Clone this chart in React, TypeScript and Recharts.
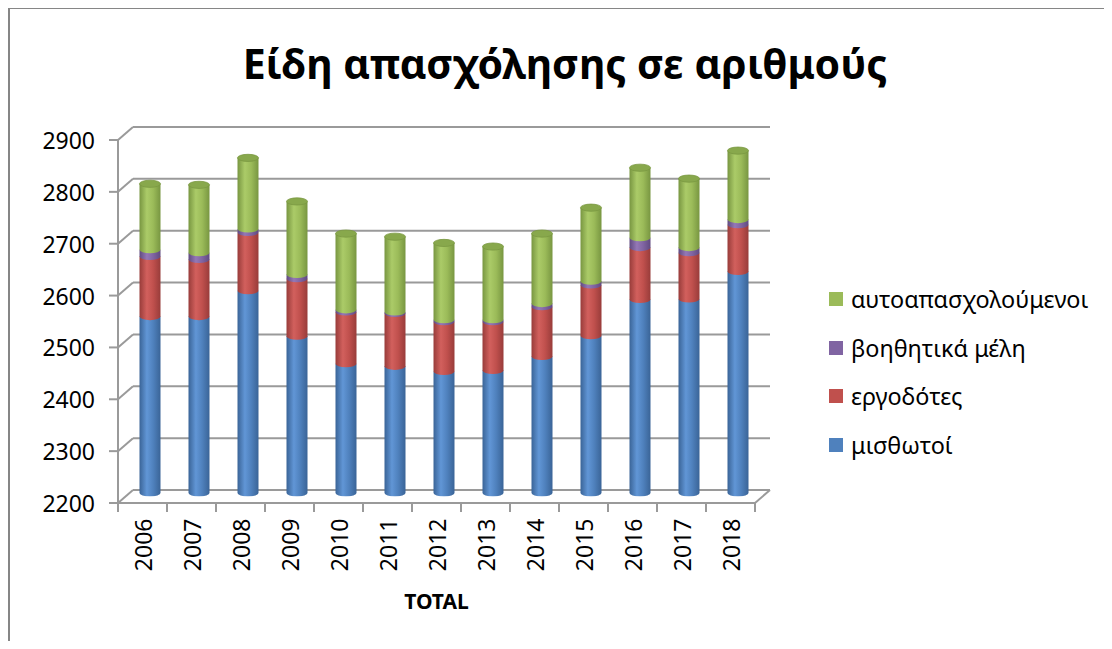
import React from 'react';
import { BarChart, Bar, XAxis, YAxis, CartesianGrid, Legend } from 'recharts';

const years = ['2006', '2007', '2008', '2009', '2010', '2011', '2012', '2013', '2014', '2015', '2016', '2017', '2018'];
const misthotoi = [2547, 2547, 2597, 2509, 2456, 2451, 2441, 2443, 2470, 2510, 2580, 2581, 2634];
const ergodotes = [116, 110, 112, 111, 100, 102, 96, 94, 96, 98, 100, 89, 90];
const voithitika = [13, 13, 7, 8, 4, 3, 4, 4, 6, 7, 19, 10, 10];
const autoapasx = [127, 131, 137, 141, 147, 145, 148, 141, 135, 142, 135, 133, 133];
const yTicks = [2200, 2300, 2400, 2500, 2600, 2700, 2800, 2900];

const seriesNames = ['μισθωτοί', 'εργοδότες', 'βοηθητικά μέλη', 'αυτοαπασχολούμενοι'];

const data = years.map((year, i) => ({
  year,
  misthotoi: misthotoi[i],
  ergodotes: ergodotes[i],
  voithitika: voithitika[i],
  autoapasx: autoapasx[i],
}));

const FONT = '"Noto Sans", "Liberation Sans", Arial, sans-serif';
const GRID = '#9a9a9a';
const DX = 7.5;
const DY = 6.5;

const palette = {
  misthotoi: { base: '#4F81BD', light: '#6196D6', dark: '#3A6497' },
  ergodotes: { base: '#C0504D', light: '#D2605D', dark: '#983C3A' },
  voithitika: { base: '#8064A2', light: '#9478B6', dark: '#604A80' },
  autoapasx: { base: '#9BBB59', light: '#ABCB68', dark: '#789641' },
};

const makeCylinder = (key: string, cap: boolean) => (props: any) => {
  const { x, y, width, height, background } = props;
  if (x == null || y == null || !width) return <g />;
  const rx = width / 2;
  const ry = width * 0.17;
  let bottom = y + height;
  if (background && typeof background.y === 'number') {
    const floor = background.y + background.height;
    if (bottom > floor - ry) bottom = floor - ry;
  }
  const top = y;
  if (bottom < top) return <g />;
  const d = `M${x},${top} L${x},${bottom} A${rx},${ry} 0 0 0 ${x + width},${bottom} L${x + width},${top} Z`;
  return (
    <g>
      <path d={d} fill={`url(#grad-${key})`} />
      {cap && (
        <ellipse cx={x + rx} cy={top} rx={rx} ry={ry} fill="#88A84C" stroke="#7A9841" strokeWidth={0.8} />
      )}
    </g>
  );
};

const gridLine = (p: any) => {
  const { x1, y1, x2, y2, y, height, index } = p;
  const isBottom = typeof y === 'number' && Math.abs(y1 - (y + height)) < 0.5;
  const els: any[] = [
    <line key="back" x1={x1 + DX} y1={y1 - DY} x2={x2 + DX} y2={y2 - DY} />,
    <line key="diag" x1={x1 - DX} y1={y1 + DY} x2={x1 + DX} y2={y1 - DY} />,
  ];
  if (isBottom) {
    els.push(<line key="front" x1={x1 - DX} y1={y1 + DY} x2={x2 - DX} y2={y2 + DY} />);
    els.push(<line key="rdiag" x1={x2 - DX} y1={y2 + DY} x2={x2 + DX} y2={y2 - DY} />);
    els.push(<line key="yaxis" x1={x1 - DX} y1={y + DY} x2={x1 - DX} y2={y1 + DY} />);
  }
  return (
    <g key={`grid-${index}`} stroke={GRID} strokeWidth={2} fill="none">
      {els}
    </g>
  );
};

const YTick = (p: any) => {
  const { x, y, payload } = p;
  return (
    <g>
      <line x1={x - 16.5} y1={y + DY} x2={x - DX} y2={y + DY} stroke={GRID} strokeWidth={2} />
      <text x={x - 30.5} y={y + DY} textAnchor="end" dominantBaseline="central" fontSize={23} fill="#000" fontFamily={FONT}>
        {payload.value}
      </text>
    </g>
  );
};

const XTick = (p: any) => {
  const { x, y, payload, index, width, visibleTicksCount } = p;
  let half = width / visibleTicksCount / 2;
  if (!isFinite(half)) half = 24.5;
  const fx = x - DX;
  const isLast = index === visibleTicksCount - 1;
  return (
    <g>
      <line x1={fx - half} y1={y + DY} x2={fx - half} y2={y + DY + 9} stroke={GRID} strokeWidth={2} />
      {isLast && <line x1={fx + half} y1={y + DY} x2={fx + half} y2={y + DY + 9} stroke={GRID} strokeWidth={2} />}
      <text
        x={fx}
        y={y + 22}
        transform={`rotate(-90 ${fx} ${y + 22})`}
        textAnchor="end"
        dominantBaseline="central"
        fontSize={23}
        fill="#000"
        fontFamily={FONT}
      >
        {payload.value}
      </text>
    </g>
  );
};

const LegendContent = (props: any) => {
  const payload = (props.payload || [])
    .slice()
    .sort((a: any, b: any) => seriesNames.indexOf(b.value) - seriesNames.indexOf(a.value));
  return (
    <div style={{ fontFamily: FONT }}>
      {payload.map((entry: any) => (
        <div key={entry.value} style={{ height: 48.7, display: 'flex', alignItems: 'center' }}>
          <span style={{ width: 14, height: 14, background: entry.color, display: 'inline-block', marginRight: 8 }} />
          <span style={{ fontSize: 23.4, color: '#000', whiteSpace: 'nowrap' }}>{entry.value}</span>
        </div>
      ))}
    </div>
  );
};

export default function App() {
  const keys = ['misthotoi', 'ergodotes', 'voithitika', 'autoapasx'] as const;
  return (
    <div
      style={{
        position: 'relative',
        width: 1096,
        height: 633,
        borderLeft: '2px solid #868686',
        borderTop: '1px solid #868686',
        boxSizing: 'border-box',
        fontFamily: FONT,
        background: '#fff',
      }}
    >
      <div
        style={{
          position: 'absolute',
          left: 0,
          width: 1110,
          top: 29,
          textAlign: 'center',
          fontSize: 41,
          fontWeight: 700,
          color: '#000',
          lineHeight: '50px',
          whiteSpace: 'nowrap',
        }}
      >
        Είδη απασχόλησης σε αριθμούς
      </div>
      <BarChart
        width={1090}
        height={630}
        data={data}
        margin={{ top: 124.5, left: 55.5, right: 337.5, bottom: 52.5 }}
        barSize={21}
      >
        <defs>
          {keys.map((k) => (
            <linearGradient key={k} id={`grad-${k}`} x1="0" y1="0" x2="1" y2="0">
              <stop offset="0%" stopColor={palette[k].dark} />
              <stop offset="35%" stopColor={palette[k].light} />
              <stop offset="65%" stopColor={palette[k].base} />
              <stop offset="100%" stopColor={palette[k].dark} />
            </linearGradient>
          ))}
        </defs>
        <CartesianGrid horizontal={gridLine} vertical={false} />
        <XAxis
          dataKey="year"
          height={90}
          axisLine={false}
          tickLine={false}
          tickSize={0}
          tickMargin={0}
          interval={0}
          tick={<XTick />}
        />
        <YAxis
          width={60}
          domain={[2200, 2900]}
          allowDataOverflow={true}
          ticks={yTicks}
          axisLine={false}
          tickLine={false}
          tickSize={0}
          tickMargin={0}
          tick={<YTick />}
        />
        <Legend
          layout="horizontal"
          verticalAlign="middle"
          align="center"
          wrapperStyle={{ left: 819, top: 265.6, width: 270 }}
          content={<LegendContent />}
        />
        {keys.map((k, i) => (
          <Bar
            key={k}
            dataKey={k}
            name={seriesNames[i]}
            stackId="a"
            fill={palette[k].base}
            isAnimationActive={false}
            shape={makeCylinder(k, k === 'autoapasx')}
          />
        ))}
      </BarChart>
      <div
        style={{
          position: 'absolute',
          left: 108,
          width: 637,
          top: 578,
          textAlign: 'center',
          fontSize: 21,
          fontWeight: 700,
          color: '#000',
          lineHeight: '28px',
        }}
      >
        TOTAL
      </div>
    </div>
  );
}
